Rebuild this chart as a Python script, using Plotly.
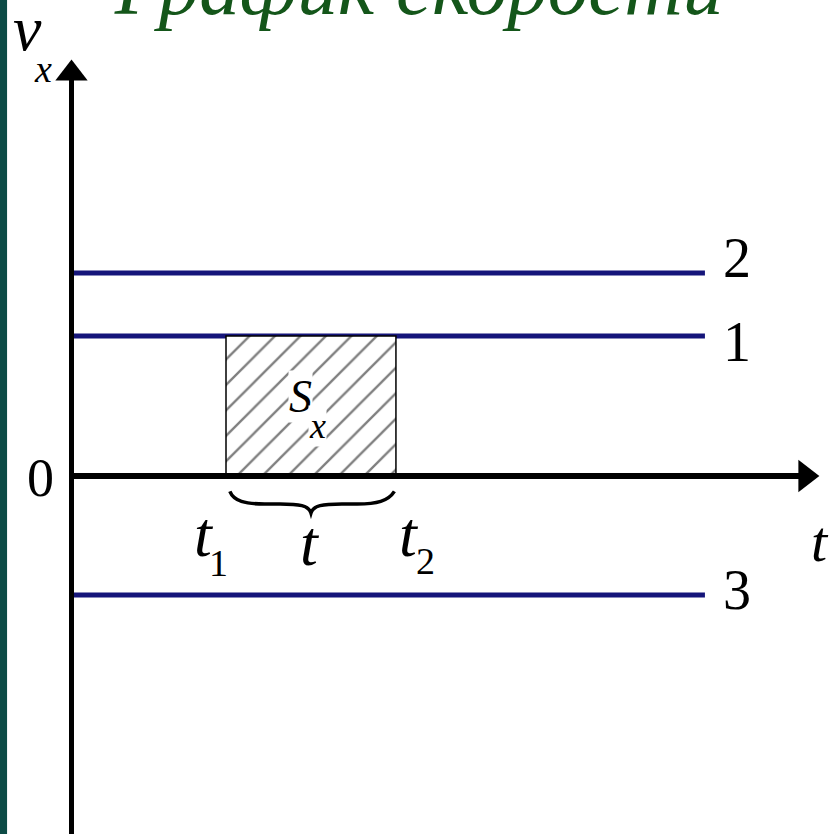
import plotly.graph_objects as go

# ---- data ----
line_names = ["2", "1", "3"]
line_speeds = [2.9, 2.0, -1.7]          # v_x of each uniform motion
t_start = 0.0
t_end = 8.2
t1 = 2.0
t2 = 4.2
axis_t_max = 9.5
axis_v_max = 5.75
axis_v_min = -5.3

NAVY = "#15157a"
GREEN = "#14561a"
SERIF = "Liberation Serif, Times New Roman, DejaVu Serif, serif"

fig = go.Figure()

# velocity lines
for name, v in zip(line_names, line_speeds):
    fig.add_trace(go.Scatter(x=[t_start, t_end], y=[v, v], mode="lines",
                             line=dict(color=NAVY, width=5), hoverinfo="skip",
                             showlegend=False))

# hatched area s_x between t1 and t2 under line 1
v1 = line_speeds[line_names.index("1")]
fig.add_trace(go.Scatter(x=[t1, t1, t2, t2, t1], y=[0, v1, v1, 0, 0], mode="lines",
                         fill="toself", fillcolor="white",
                         fillpattern=dict(shape="/", size=18, solidity=0.13,
                                          fgcolor="black", bgcolor="white"),
                         line=dict(color="black", width=1.5), hoverinfo="skip",
                         showlegend=False))

# axes
fig.add_trace(go.Scatter(x=[0, 0], y=[axis_v_min, axis_v_max], mode="lines",
                         line=dict(color="black", width=5), hoverinfo="skip", showlegend=False))
fig.add_trace(go.Scatter(x=[0, axis_t_max], y=[0, 0], mode="lines",
                         line=dict(color="black", width=6), hoverinfo="skip", showlegend=False))
fig.add_trace(go.Scatter(x=[0], y=[axis_v_max], mode="markers",
                         marker=dict(symbol="triangle-up", size=28, color="black"),
                         hoverinfo="skip", showlegend=False))
fig.add_trace(go.Scatter(x=[axis_t_max], y=[0], mode="markers",
                         marker=dict(symbol="triangle-right", size=28, color="black"),
                         hoverinfo="skip", showlegend=False))

# brace under [t1, t2]
m = (t1 + t2) / 2
ya, yb, yc = -0.22, -0.40, -0.53
brace = (f"M {t1+0.05},{ya} C {t1+0.1},{yb+0.04} {t1+0.25},{yb} {t1+0.5},{yb} "
         f"L {m-0.4},{yb} C {m-0.15},{yb} {m-0.03},{yb-0.02} {m},{yc} "
         f"C {m+0.03},{yb-0.02} {m+0.15},{yb} {m+0.4},{yb} "
         f"L {t2-0.5},{yb} C {t2-0.25},{yb} {t2-0.1},{yb+0.04} {t2-0.02},{ya}")
fig.add_shape(type="path", path=brace, xref="x", yref="y",
              line=dict(color="black", width=3.5))

# left dark stripe
fig.add_shape(type="rect", xref="paper", yref="paper", x0=0, x1=0.0085, y0=0, y1=1,
              fillcolor="#0d4b46", line=dict(width=0), layer="above")


def txt(x, y, s, size, italic=True, color="black", bg=None, xanchor="center",
        xref="x", yref="y"):
    fig.add_annotation(x=x, y=y, xref=xref, yref=yref, text=s, showarrow=False,
                       xanchor=xanchor, yanchor="middle",
                       font=dict(family=SERIF, size=size, color=color,
                                 style="italic" if italic else "normal"),
                       bgcolor=bg, borderpad=0)


# title (top of it runs off the picture, as in the original)
txt(0.136, 1.016, "График скорости", 81, color=GREEN, xanchor="left",
    xref="paper", yref="paper")

# axis labels
txt(-0.575, 6.39, "v", 64)
txt(-0.37, 5.82, "x", 38)
txt(9.69, -0.93, "t", 58)
txt(-0.40, -0.03, "0", 54, italic=False)

# line labels
label_pos = {"2": 3.11, "1": 1.91, "3": -1.63}
for name in line_names:
    txt(8.61, label_pos[name], name, 56, italic=False)

# time labels
txt(1.72, -0.84, "t", 64)
txt(1.90, -1.24, "1", 38, italic=False)
txt(3.09, -0.97, "t", 64)
txt(4.37, -0.84, "t", 64)
txt(4.58, -1.21, "2", 38, italic=False)

# area label
txt(2.97, 1.13, "S", 46, bg="white")
txt(3.19, 0.72, "x", 36, bg="white")

fig.update_layout(
    width=831, height=834, autosize=False,
    margin=dict(l=0, r=0, t=0, b=0),
    paper_bgcolor="white", plot_bgcolor="white",
    xaxis=dict(range=[-0.9256, 9.832], visible=False, fixedrange=True),
    yaxis=dict(range=[-5.114, 6.8], visible=False, fixedrange=True),
    showlegend=False,
)

fig.write_html("out.html", config={"displayModeBar": False},
               post_script="document.body.style.margin='0';")
